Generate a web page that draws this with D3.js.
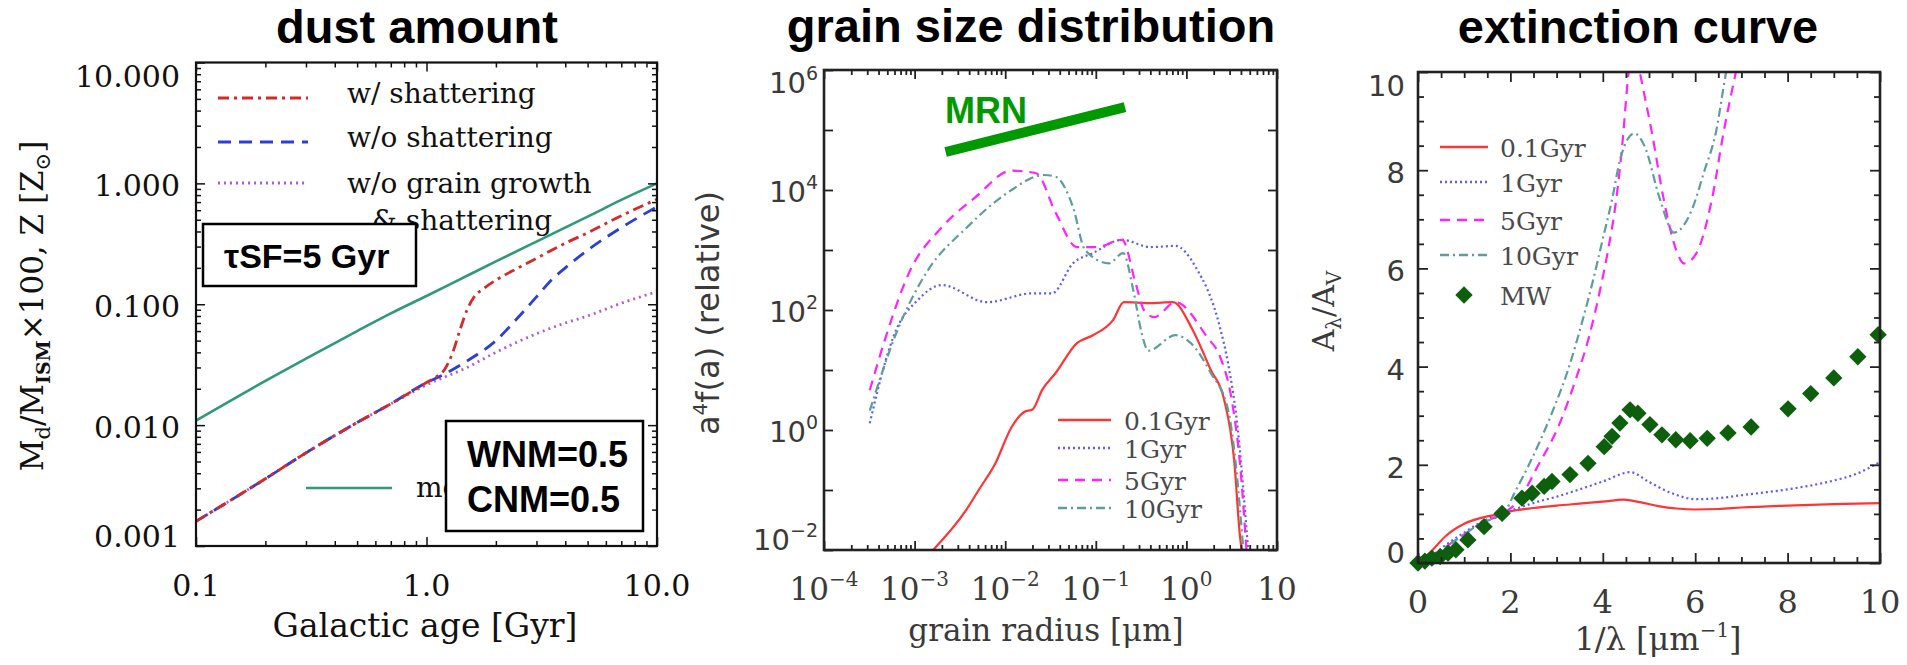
<!DOCTYPE html>
<html>
<head>
<meta charset="utf-8">
<script src="https://cdn.jsdelivr.net/npm/d3@7"></script>
<style>
  body { margin: 0; background: #fff; }
  text { font-family: "DejaVu Serif", serif; }
  .title { font-family: "Liberation Sans", Arial, sans-serif; font-weight: bold; font-size: 47px; fill: #000; }
  .bold { font-family: "Liberation Sans", Arial, sans-serif; font-weight: bold; }
  .sans { font-family: "DejaVu Sans", sans-serif; }
</style>
</head>
<body>
<svg id="fig" width="1907" height="665"></svg>
<script>
// ---- panel 1: dust amount (Galactic age [Gyr] vs Md/MISM x100, Z) ----
var ageTicks = [0.1, 1, 10];
var ageTickLabels = ["0.1", "1.0", "10.0"];
var dustTicks = [0.001, 0.01, 0.1, 1, 10];
var dustTickLabels = ["0.001", "0.010", "0.100", "1.000", "10.000"];

var metallicity = [[0.1,0.0109],[0.2,0.0232],[0.3,0.0355],[0.5,0.06],[0.7,0.084],[1.0,0.117],[1.5,0.172],[2.0,0.226],[3.0,0.33],[5.0,0.53],[7.0,0.73],[10,1.0]];
var withShattering = [[0.1,0.0016],[0.2,0.0036],[0.3,0.0059],[0.5,0.0105],[0.7,0.015],[1.0,0.0225],[1.1,0.025],[1.2,0.029],[1.3,0.040],[1.4,0.062],[1.5,0.09],[1.6,0.113],[1.8,0.138],[2.0,0.158],[2.5,0.2],[3.0,0.24],[4.0,0.32],[5.0,0.39],[7.0,0.54],[10,0.74]];
var withoutShattering = [[0.1,0.0016],[0.2,0.0036],[0.3,0.0059],[0.5,0.0105],[0.7,0.015],[1.0,0.0225],[1.2,0.0265],[1.5,0.034],[2.0,0.05],[2.5,0.078],[3.0,0.115],[3.5,0.16],[4.0,0.2],[5.0,0.28],[7.0,0.43],[10,0.64]];
var noGrowth = [[0.1,0.0016],[0.2,0.0036],[0.3,0.0059],[0.5,0.0105],[0.7,0.015],[1.0,0.0215],[1.5,0.03],[2.0,0.04],[3.0,0.057],[4.0,0.07],[5.0,0.08],[7.0,0.102],[10,0.127]];
var dustLegend = ["w/ shattering", "w/o shattering", "w/o grain growth", "& shattering"];

// ---- panel 2: grain size distribution ----
var radiusTicks = [1e-4, 1e-3, 1e-2, 1e-1, 1, 10];
var radiusExp = ["\u22124", "\u22123", "\u22122", "\u22121", "0", ""];
var sizeTicks = [1e-2, 1e-1, 1, 10, 100, 1e3, 1e4, 1e5, 1e6];
var sizeLabelTicks = [1e-2, 1, 100, 1e4, 1e6];
var sizeExp = ["\u22122", "0", "2", "4", "6"];
var ages = ["0.1Gyr", "1Gyr", "5Gyr", "10Gyr"];
var mrnLine = [[0.0022, 4.3e4], [0.21, 2.4e5]];

var size01 = [[0.0016,0.01],[0.0037,0.046],[0.0051,0.1],[0.0078,0.28],[0.0117,1.1],[0.0162,2.0],[0.020,2.2],[0.0257,4.7],[0.036,8.9],[0.062,28],[0.093,38],[0.155,68],[0.204,135],[0.40,130],[0.71,135],[1.17,47],[1.86,10],[2.57,3.5],[3.39,0.28],[3.9,0.017],[4.07,0.01]];
var size1 = [[3.2e-4,1.3],[4.7e-4,13],[5.8e-4,35],[1.1e-3,150],[2.0e-3,260],[6.3e-3,135],[0.02,190],[0.033,190],[0.056,600],[0.093,890],[0.195,1480],[0.40,1120],[0.76,1170],[1.26,525],[2.34,52],[2.88,13],[3.7,1.0],[4.37,0.06],[4.8,0.01]];
var size5 = [[3.2e-4,4.6],[4.7e-4,32],[8.7e-4,420],[2.0e-3,2400],[4.7e-3,7600],[0.0117,21000],[0.022,19000],[0.036,4200],[0.062,1120],[0.102,1120],[0.195,1480],[0.275,280],[0.34,100],[0.44,76],[0.76,135],[1.7,35],[2.34,17],[3.16,3.2],[3.9,0.28],[4.6,0.01]];
var size10 = [[3.2e-4,2.1],[6.5e-4,47],[1.35e-3,420],[3.8e-3,2400],[0.0105,8900],[0.027,17800],[0.036,16600],[0.056,5200],[0.076,1000],[0.14,600],[0.20,890],[0.26,210],[0.32,42],[0.38,21],[0.76,38],[1.12,28],[1.86,8.9],[2.9,2.1],[3.5,0.28],[4.25,0.01]];

// ---- panel 3: extinction curve ----
var invLambdaTicks = [0, 2, 4, 6, 8, 10];
var extTicks = [0, 2, 4, 6, 8, 10];
var ext01 = [[0,0],[0.3,0.25],[0.6,0.55],[1.0,0.8],[1.5,0.95],[1.8,1.0],[2.0,1.05],[2.5,1.12],[3.0,1.17],[3.5,1.21],[4.0,1.25],[4.45,1.29],[4.8,1.24],[5.2,1.16],[5.6,1.11],[6.0,1.09],[6.5,1.1],[7.0,1.13],[8.0,1.17],[9.0,1.2],[10,1.22]];
var ext1 = [[0,0],[0.3,0.15],[0.65,0.4],[1.0,0.62],[1.34,0.82],[1.86,1.02],[2.2,1.13],[2.6,1.25],[3.0,1.35],[3.5,1.5],[4.0,1.66],[4.6,1.85],[5.0,1.65],[5.5,1.42],[6.0,1.3],[6.5,1.32],[7.0,1.38],[8.0,1.5],[9.0,1.68],[9.5,1.82],[10,2.06]];
var ext5 = [[0,0],[0.3,0.12],[0.65,0.36],[1.0,0.58],[1.34,0.8],[1.86,1.02],[2.2,1.3],[2.55,1.9],[3.07,2.85],[3.4,3.7],[3.7,4.6],[3.95,5.6],[4.1,6.3],[4.29,7.4],[4.42,8.5],[4.56,10.0],[4.68,10.6],[4.8,10.0],[4.93,9.4],[5.06,8.78],[5.32,7.4],[5.58,6.4],[5.76,6.1],[6.02,6.3],[6.36,7.4],[6.62,8.8],[6.88,10.0],[7.1,11.0]];
var ext10 = [[0,0],[0.3,0.12],[0.65,0.36],[1.0,0.58],[1.34,0.8],[1.86,1.02],[2.1,1.45],[2.38,1.96],[2.9,3.06],[3.25,3.94],[3.55,4.9],[3.8,5.8],[4.0,6.6],[4.2,7.4],[4.37,8.2],[4.55,8.65],[4.68,8.75],[4.9,8.5],[5.24,7.4],[5.54,6.73],[5.93,7.2],[6.19,7.96],[6.45,8.78],[6.67,10.0],[6.9,11.0]];
var milkyWay = [[0.0,0.0],[0.15,0.04],[0.30,0.10],[0.48,0.13],[0.65,0.20],[0.82,0.27],[1.08,0.47],[1.43,0.74],[1.82,1.01],[2.25,1.32],[2.47,1.42],[2.73,1.56],[2.9,1.66],[3.29,1.8],[3.68,2.03],[4.03,2.37],[4.2,2.58],[4.37,2.85],[4.59,3.12],[4.76,3.05],[5.02,2.82],[5.28,2.61],[5.58,2.51],[5.89,2.49],[6.26,2.54],[6.71,2.65],[7.21,2.77],[8.01,3.14],[8.5,3.45],[9.0,3.77],[9.52,4.2],[9.96,4.65]];

var svg = d3.select("#fig");

function curve(x, y) {
  return d3.line()
    .x(function (d) { return x(d[0]); })
    .y(function (d) { return y(d[1]); })
    .curve(d3.curveMonotoneX);
}

function addClip(id, x, y) {
  svg.append("clipPath").attr("id", id).append("rect")
    .attr("x", x.range()[0]).attr("y", y.range()[1])
    .attr("width", x.range()[1] - x.range()[0])
    .attr("height", y.range()[0] - y.range()[1]);
}

function isDecade(v) {
  var l = Math.log10(v);
  return Math.abs(l - Math.round(l)) < 1e-6;
}

// ticks pointing inward on all four sides, plus the box
function frame(x, y, opt) {
  var g = svg.append("g");
  var b = y.range()[0], t = y.range()[1], l = x.range()[0], r = x.range()[1];
  var sides = [
    [d3.axisBottom, x, "translate(0," + b + ")", opt.xMajor, opt.xMinor],
    [d3.axisTop, x, "translate(0," + t + ")", opt.xMajor, opt.xMinor],
    [d3.axisLeft, y, "translate(" + l + ",0)", opt.yMajor, opt.yMinor],
    [d3.axisRight, y, "translate(" + r + ",0)", opt.yMajor, opt.yMinor]
  ];
  sides.forEach(function (s) {
    [[s[3], opt.major], [s[4], opt.minor]].forEach(function (p) {
      if (!p[0].length) return;
      g.append("g").attr("transform", s[2])
        .call(s[0](s[1]).tickValues(p[0]).tickSize(-p[1]).tickFormat(""))
        .call(function (a) {
          a.select(".domain").remove();
          a.selectAll("text").remove();
          a.selectAll("line").attr("stroke", opt.color).attr("stroke-width", opt.tickWidth);
        });
    });
  });
  g.append("rect").attr("x", l).attr("y", t).attr("width", r - l).attr("height", b - t)
    .attr("fill", "none").attr("stroke", opt.color).attr("stroke-width", opt.frameWidth);
}

function path(data, x, y, clip, color, width, dash) {
  svg.append("path").datum(data)
    .attr("clip-path", "url(#" + clip + ")")
    .attr("d", curve(x, y))
    .attr("fill", "none").attr("stroke", color)
    .attr("stroke-width", width).attr("stroke-dasharray", dash || null);
}

function legendLine(x0, x1, yy, color, width, dash) {
  svg.append("line").attr("x1", x0).attr("x2", x1).attr("y1", yy).attr("y2", yy)
    .attr("stroke", color).attr("stroke-width", width).attr("stroke-dasharray", dash || null);
}

// ---------------- panel 1 ----------------
(function () {
  var x = d3.scaleLog().domain([0.1, 10]).range([196, 657]);
  var y = d3.scaleLog().domain([0.001, 10]).range([546, 62.5]);
  addClip("c1", x, y);

  var red = "#d42a2a", blue = "#2a3fd8", purple = "#b45ad8", green = "#2f9a73";
  path(metallicity, x, y, "c1", green, 2.6);
  path(noGrowth, x, y, "c1", purple, 2.8, "2,4");
  path(withoutShattering, x, y, "c1", blue, 2.8, "13,8");
  path(withShattering, x, y, "c1", red, 2.8, "11,5,3,5");

  frame(x, y, {
    xMajor: ageTicks, xMinor: x.ticks().filter(function (v) { return !isDecade(v); }),
    yMajor: dustTicks, yMinor: y.ticks().filter(function (v) { return !isDecade(v); }),
    major: 9, minor: 5, color: "#111", tickWidth: 1.5, frameWidth: 2.2
  });

  ageTicks.forEach(function (v, i) {
    svg.append("text").attr("x", x(v)).attr("y", 596).attr("text-anchor", "middle")
      .attr("font-size", 30).attr("fill", "#111").text(ageTickLabels[i]);
  });
  dustTicks.forEach(function (v, i) {
    var shift = i === dustTicks.length - 1 ? 13 : (i === 0 ? -10 : 2);
    svg.append("text").attr("x", 180).attr("y", y(v) + 11 + shift).attr("text-anchor", "end")
      .attr("font-size", 30).attr("fill", "#111").text(dustTickLabels[i]);
  });

  svg.append("text").attr("x", 425).attr("y", 637).attr("text-anchor", "middle")
    .attr("font-size", 33).attr("fill", "#111").text("Galactic age [Gyr]");

  var yl = svg.append("text").attr("transform", "translate(43,306) rotate(-90)")
    .attr("text-anchor", "middle").attr("font-size", 31).attr("fill", "#111");
  yl.append("tspan").text("M");
  yl.append("tspan").attr("dy", 7).attr("font-size", 21).text("d");
  yl.append("tspan").attr("dy", -7).text("/M");
  yl.append("tspan").attr("dy", 7).attr("font-size", 19).attr("font-weight", "bold").text("ISM");
  yl.append("tspan").attr("dy", -7).text("\u00d7100, Z [Z");
  yl.append("tspan").attr("dy", 7).attr("font-size", 21).text("\u2299");
  yl.append("tspan").attr("dy", -7).text("]");

  // legend
  legendLine(218, 308, 98, red, 2.8, "11,5,3,5");
  legendLine(218, 308, 142, blue, 2.8, "13,8");
  legendLine(218, 308, 183, purple, 2.8, "2,4");
  var ly = [103, 147, 193, 230], lx = [347, 347, 347, 372];
  dustLegend.forEach(function (s, i) {
    svg.append("text").attr("x", lx[i]).attr("y", ly[i]).attr("font-size", 28)
      .attr("fill", "#111").text(s);
  });
  // the metallicity label runs in under the WNM/CNM box, as in the original
  svg.append("clipPath").attr("id", "cm").append("rect")
    .attr("x", 400).attr("y", 460).attr("width", 45).attr("height", 50);
  legendLine(306, 392, 488, green, 2.6);
  svg.append("text").attr("clip-path", "url(#cm)").attr("x", 416).attr("y", 497)
    .attr("font-size", 28).attr("fill", "#111").text("metallicity");

  // boxes
  svg.append("rect").attr("x", 203).attr("y", 224).attr("width", 213).attr("height", 62)
    .attr("fill", "#fff").attr("stroke", "#000").attr("stroke-width", 2.5);
  svg.append("text").attr("class", "bold").attr("x", 224).attr("y", 268).attr("font-size", 34)
    .text("\u03c4SF=5 Gyr");
  svg.append("rect").attr("x", 446).attr("y", 421).attr("width", 197).attr("height", 110)
    .attr("fill", "#fff").attr("stroke", "#000").attr("stroke-width", 2.5);
  svg.append("text").attr("class", "bold").attr("x", 467).attr("y", 467).attr("font-size", 36).text("WNM=0.5");
  svg.append("text").attr("class", "bold").attr("x", 467).attr("y", 512).attr("font-size", 36).text("CNM=0.5");

  svg.append("text").attr("class", "title").attr("x", 417).attr("y", 43).attr("text-anchor", "middle").text("dust amount");
})();

// ---------------- panel 2 ----------------
(function () {
  var x = d3.scaleLog().domain([1e-4, 10]).range([824, 1277]);
  var y = d3.scaleLog().domain([1e-2, 1e6]).range([550, 70]);
  addClip("c2", x, y);

  var red = "#ff3434", blue = "#5a5aff", magenta = "#ff22ff", teal = "#5f9c9c";
  var dashes = [null, "2,3", "10,7", "9,4,2,4"];
  var colors = [red, blue, magenta, teal];

  svg.append("line")
    .attr("x1", x(mrnLine[0][0])).attr("y1", y(mrnLine[0][1]))
    .attr("x2", x(mrnLine[1][0])).attr("y2", y(mrnLine[1][1]))
    .attr("stroke", "#009a00").attr("stroke-width", 10);
  svg.append("text").attr("class", "bold").attr("x", 945).attr("y", 123).attr("font-size", 36)
    .attr("fill", "#009a00").text("MRN");

  [size01, size1, size5, size10].forEach(function (d, i) {
    path(d, x, y, "c2", colors[i], 2.2, dashes[i]);
  });

  frame(x, y, {
    xMajor: radiusTicks, xMinor: x.ticks().filter(function (v) { return !isDecade(v); }),
    yMajor: sizeTicks, yMinor: [],
    major: 9, minor: 5, color: "#222", tickWidth: 1.8, frameWidth: 2.6
  });

  radiusTicks.forEach(function (v, i) {
    var t = svg.append("text").attr("x", x(v)).attr("y", 600).attr("text-anchor", "middle")
      .attr("font-size", 31).attr("fill", "#3a3a3a");
    t.append("tspan").text("10");
    t.append("tspan").attr("dy", -14).attr("font-size", 20).text(radiusExp[i]);
  });
  sizeLabelTicks.forEach(function (v, i) {
    var shift = i === sizeLabelTicks.length - 1 ? 12 : (i === 0 ? -11 : 1);
    var t = svg.append("text").attr("class", "sans").attr("x", 818).attr("y", y(v) + 11 + shift)
      .attr("text-anchor", "end").attr("font-size", 29).attr("fill", "#3a3a3a");
    t.append("tspan").text("10");
    t.append("tspan").attr("dy", -13).attr("font-size", 19).text(sizeExp[i]);
  });

  svg.append("text").attr("x", 1046).attr("y", 641).attr("text-anchor", "middle")
    .attr("font-size", 31).attr("fill", "#3a3a3a").text("grain radius [\u03bcm]");

  var yl = svg.append("text").attr("class", "sans").attr("transform", "translate(719,313) rotate(-90)")
    .attr("text-anchor", "middle").attr("font-size", 32).attr("fill", "#3a3a3a");
  yl.append("tspan").text("a");
  yl.append("tspan").attr("dy", -12).attr("font-size", 20).text("4");
  yl.append("tspan").attr("dy", 12).text("f(a) (relative)");

  var ly = [420, 448, 480, 508];
  ages.forEach(function (s, i) {
    legendLine(1058, 1111, ly[i], colors[i], 2.6, dashes[i]);
    svg.append("text").attr("x", 1124).attr("y", ly[i] + 10).attr("font-size", 25)
      .attr("fill", "#4a4a4a").text(s);
  });

  svg.append("text").attr("class", "title").attr("x", 1031).attr("y", 42).attr("text-anchor", "middle").text("grain size distribution");
})();

// ---------------- panel 3 ----------------
(function () {
  var x = d3.scaleLinear().domain([0, 10]).range([1418, 1880]);
  var y = d3.scaleLinear().domain([0, 10]).range([563, 72]);
  addClip("c3", x, y);

  var red = "#ff3434", blue = "#5a5aff", magenta = "#ff22ff", teal = "#5f9c9c", mw = "#0d5e0d";
  var dashes = [null, "2,3", "10,7", "9,4,2,4"];
  var colors = [red, blue, magenta, teal];

  [ext01, ext1, ext5, ext10].forEach(function (d, i) {
    path(d, x, y, "c3", colors[i], 2.2, dashes[i]);
  });

  var diamond = d3.symbol().type(d3.symbolSquare).size(150);
  svg.append("g").selectAll("path").data(milkyWay).enter().append("path")
    .attr("d", diamond)
    .attr("transform", function (d) { return "translate(" + x(d[0]) + "," + y(d[1]) + ") rotate(45)"; })
    .attr("fill", mw);

  var halfSteps = d3.range(0, 10.001, 0.5).filter(function (v) { return v % 2 !== 0; });
  frame(x, y, {
    xMajor: invLambdaTicks, xMinor: halfSteps,
    yMajor: extTicks, yMinor: halfSteps,
    major: 10, minor: 6, color: "#222", tickWidth: 1.8, frameWidth: 2.6
  });

  invLambdaTicks.forEach(function (v) {
    svg.append("text").attr("x", x(v)).attr("y", 613).attr("text-anchor", "middle")
      .attr("font-size", 32).attr("fill", "#3a3a3a").text(v);
  });
  extTicks.forEach(function (v, i) {
    var shift = i === extTicks.length - 1 ? 14 : (i === 0 ? -10 : 3);
    svg.append("text").attr("class", "sans").attr("x", 1405).attr("y", y(v) + 10 + shift)
      .attr("text-anchor", "end").attr("font-size", 29).attr("fill", "#3a3a3a").text(v);
  });

  var xl = svg.append("text").attr("x", 1658).attr("y", 650).attr("text-anchor", "middle")
    .attr("font-size", 32).attr("fill", "#3a3a3a");
  xl.append("tspan").text("1/\u03bb [\u03bcm");
  xl.append("tspan").attr("dy", -13).attr("font-size", 20).text("\u22121");
  xl.append("tspan").attr("dy", 13).text("]");

  var yl = svg.append("text").attr("transform", "translate(1334,311) rotate(-90)")
    .attr("text-anchor", "middle").attr("font-size", 30).attr("fill", "#3a3a3a");
  yl.append("tspan").text("A");
  yl.append("tspan").attr("dy", 7).attr("font-size", 20).text("\u03bb");
  yl.append("tspan").attr("dy", -7).text("/A");
  yl.append("tspan").attr("dy", 7).attr("font-size", 20).text("V");

  var ly = [147, 182, 220, 255];
  ages.forEach(function (s, i) {
    legendLine(1440, 1488, ly[i], colors[i], 2.6, dashes[i]);
    svg.append("text").attr("x", 1500).attr("y", ly[i] + 10).attr("font-size", 25)
      .attr("fill", "#4a4a4a").text(s);
  });
  svg.append("path").attr("d", diamond).attr("transform", "translate(1464,295) rotate(45)").attr("fill", mw);
  svg.append("text").attr("x", 1500).attr("y", 305).attr("font-size", 25).attr("fill", "#4a4a4a").text("MW");

  svg.append("text").attr("class", "title").attr("x", 1638).attr("y", 43).attr("text-anchor", "middle").text("extinction curve");
})();
</script>
</body>
</html>
